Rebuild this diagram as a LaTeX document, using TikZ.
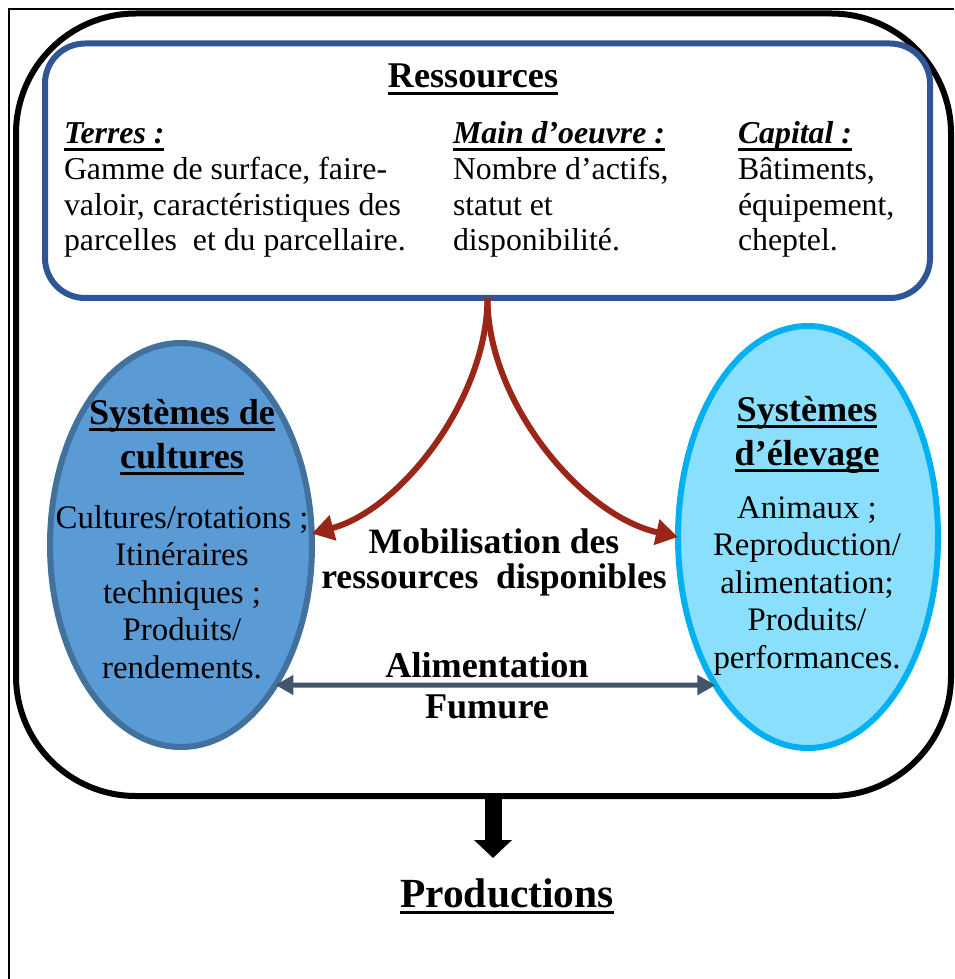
\documentclass[tikz,border=0pt]{standalone}
\usepackage{fontspec}
\setmainfont{Liberation Serif}
\usetikzlibrary{arrows.meta,shapes.geometric}
\newsavebox{\boitesoul}
\newcommand{\souligne}[1]{\sbox{\boitesoul}{#1}\rlap{\rule[-3.8pt]{\wd\boitesoul}{1.6pt}}\usebox{\boitesoul}}
\newlength{\pxu}\setlength{\pxu}{0.02cm}
\definecolor{bleucadre}{HTML}{2F5597}
\definecolor{bleucult}{HTML}{5B9BD5}
\definecolor{bordcult}{HTML}{41719C}
\definecolor{bleuelev}{HTML}{8ADFFD}
\definecolor{bordelev}{HTML}{00B0F0}
\definecolor{rougefl}{HTML}{9A2617}
\definecolor{ardoise}{HTML}{44546A}
\tikzset{
  corps/.style={inner sep=0, outer sep=0, font=\fontsize{18.1pt}{20.3pt}\selectfont, align=left, anchor=base west},
  corpsell/.style={inner sep=0, outer sep=0, font=\fontsize{18.7pt}{21.3pt}\selectfont, align=center, anchor=base},
  titre/.style={inner sep=0, outer sep=0, font=\bfseries\fontsize{20.6pt}{24.9pt}\selectfont, align=center, anchor=base},
  milieu/.style={inner sep=0, outer sep=0, font=\bfseries\fontsize{20.3pt}{19.8pt}\selectfont, align=center, anchor=base},
  ellcult/.style={ellipse, draw=bordcult, fill=bleucult, line width=6*\pxu, inner sep=0, outer sep=0},
  ellelev/.style={ellipse, draw=bordelev, fill=bleuelev, line width=6*\pxu, inner sep=0, outer sep=0},
  flrouge/.style={draw=rougefl, line width=6*\pxu, -{Triangle[length=0.44cm, width=0.5cm]}}
}
\begin{document}
\begin{tikzpicture}[x=0.02cm, y=-0.02cm]
  \useasboundingbox (0,0) rectangle (954,979);

  % Cadre fin
  \draw[line width=1.5*\pxu] (9,979) -- (9,9) -- (954,9);

  % Cadre de l'exploitation
  \node[draw, line width=6*\pxu, rounded corners=120*\pxu, minimum width=935*\pxu,
        minimum height=782.5*\pxu, inner sep=0, outer sep=0] (cadre) at (483.5,404.75) {};

  % Ressources
  \node[draw=bleucadre, line width=6*\pxu, rounded corners=40*\pxu, minimum width=885*\pxu,
        minimum height=254.5*\pxu, inner sep=0, outer sep=0] (res) at (487.5,170.75) {};
  \node[titre] (titreres) at (473,88) {\souligne{Ressources}};
  \node[corps] (terres) at (64,251) {\souligne{\textbf{\textit{Terres :}}}\\Gamme de surface, faire-\\valoir, caractéristiques des\\parcelles \ et du parcellaire.};
  \node[corps] (mainoeuvre) at (453,251) {\souligne{\textbf{\textit{Main d’oeuvre :}}}\\Nombre d’actifs,\\statut et\\disponibilité.};
  \node[corps] (capital) at (738,251) {\souligne{\textbf{\textit{Capital :}}}\\Bâtiments,\\équipement,\\cheptel.};

  % Systemes
  \node[ellcult, minimum width=262*\pxu, minimum height=404*\pxu] (cultures) at (181,545) {};
  \node[ellelev, minimum width=260*\pxu, minimum height=422*\pxu] (elevage) at (808,537) {};

  \node[titre] (titrecult) at (182,468) {\souligne{Systèmes de}\\\souligne{cultures}};
  \node[corpsell] (textecult) at (182,678) {Cultures/rotations ;\\Itinéraires\\techniques ;\\Produits/\\rendements.};
  \node[titre] (titreelev) at (807,465) {\souligne{Systèmes}\\\souligne{d’élevage}};
  \node[corpsell] (texteelev) at (807,668) {Animaux ;\\Reproduction/\\alimentation;\\Produits/\\performances.};

  % Mobilisation
  \draw[flrouge] (res.south) .. controls (487,400) and (400,510) .. (cultures.5);
  \draw[flrouge] (res.south) .. controls (487,400) and (580,515) .. (elevage.west);
  \node[milieu] (mobil) at (494,588) {Mobilisation des\\ressources \ disponibles};

  % Echanges
  \draw[ardoise, line width=5*\pxu, {Triangle[length=0.36cm, width=0.38cm]}-{Triangle[length=0.36cm, width=0.38cm]}]
    (cultures.-56) -- (elevage.-122);
  \node[titre] (alim) at (487,718) {Alimentation\\[-2pt]Fumure};

  % Productions
  \coordinate (pointe) at (493,858);
  \draw[line width=17*\pxu, -{Triangle[length=0.36cm, width=0.74cm]}] (cadre.south -| pointe) -- (pointe);
  \node[titre, font=\bfseries\fontsize{23.6pt}{26pt}\selectfont] (prod) at (507,907) {\souligne{Productions}};
\end{tikzpicture}
\end{document}
